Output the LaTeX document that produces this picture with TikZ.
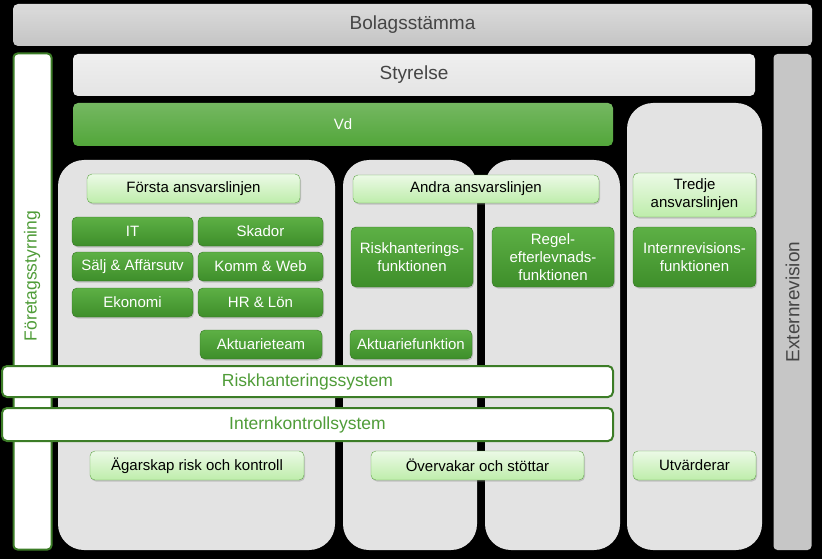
\documentclass[tikz,border=0pt]{standalone}
\usepackage{fontspec}
\setmainfont{Liberation Sans}
\usetikzlibrary{shadows}

\definecolor{bargrey}{HTML}{C4C4C4}
\definecolor{lightbar}{HTML}{E4E4E4}
\definecolor{colgrey}{HTML}{E3E3E3}
\definecolor{extgrey}{HTML}{C6C6C6}
\definecolor{textgrey}{HTML}{454545}
\definecolor{vdgreen}{HTML}{52A63A}
\definecolor{btntop}{HTML}{5DB045}
\definecolor{btnbottom}{HTML}{3E8E2A}
\definecolor{btnframe}{HTML}{367624}
\definecolor{hdrgreen}{HTML}{BEEDAB}
\definecolor{hdrframe}{HTML}{62A84A}
\definecolor{sysframe}{HTML}{3C7D27}
\definecolor{systext}{HTML}{4F9C38}

\begin{document}
\begin{tikzpicture}[x=1pt, y=-1pt,
	text centered,
	every node/.style={inner sep=0pt},
	greybar/.style={
	  rectangle,
	  rounded corners=5pt,
	  top color=bargrey!60,
	  bottom color=bargrey,
	  text=textgrey,
	  font=\fontsize{19}{22}\selectfont
	},
	lightbar/.style={
	  rectangle,
	  rounded corners=5pt,
	  top color=white!40!lightbar,
	  bottom color=lightbar,
	  text=textgrey,
	  font=\fontsize{19}{22}\selectfont
	},
	column/.style={
	  rectangle,
	  rounded corners=26pt,
	  fill=colgrey
	},
	vdbar/.style={
	  rectangle,
	  rounded corners=5pt,
	  top color=vdgreen!80!white,
	  bottom color=vdgreen,
	  text=white,
	  font=\fontsize{15}{18}\selectfont
	},
	greenbox/.style={
	  rectangle,
	  rounded corners=5pt,
	  draw=btnframe,
	  thin,
	  top color=btntop,
	  bottom color=btnbottom,
	  text=white,
	  align=center,
	  font=\fontsize{15}{18}\selectfont,
	  drop shadow={opacity=0.35, shadow xshift=1pt, shadow yshift=-1.5pt}
	},
	linebox/.style={
	  rectangle,
	  rounded corners=5pt,
	  draw=hdrframe,
	  thin,
	  top color=hdrgreen!30,
	  bottom color=hdrgreen,
	  text=black,
	  align=center,
	  font=\fontsize{15}{18}\selectfont,
	  drop shadow={opacity=0.35, shadow xshift=1pt, shadow yshift=-1.5pt}
	},
	systembar/.style={
	  rectangle,
	  rounded corners=5pt,
	  draw=sysframe,
	  line width=2pt,
	  fill=white,
	  text=systext,
	  font=\fontsize{17.5}{20}\selectfont
	},
	sidebar/.style={
	  rectangle,
	  rounded corners=4pt,
	  minimum width=496pt,
	  minimum height=38pt,
	  rotate=90
	}
	]
	\path [fill=black] (0, 0) rectangle (822, 559);

	\node at (412.5, 25) [greybar, minimum width=799pt, minimum height=42pt] (bolag) {Bolagsstämma};
	\node at (414, 75) [lightbar, minimum width=682pt, minimum height=42pt] (styrelse) {Styrelse};
	\node at (32.5, 301.5) [sidebar, draw=sysframe, line width=2pt, fill=white] (styrning) {};
	\node at (32, 276) [rotate=90, text=systext, font=\fontsize{17.5}{20}\selectfont] (styrtext) {Företagsstyrning};
	\node at (792.5, 302) [sidebar, fill=extgrey, text=textgrey, font=\fontsize{19}{22}\selectfont] (extern) {Externrevision};
	\node at (343, 124.5) [vdbar, minimum width=540pt, minimum height=43pt] (vd) {Vd};

	\node at (196.5, 355) [column, minimum width=277pt, minimum height=390pt] (first) {};
	\node at (410, 355) [column, minimum width=134pt, minimum height=390pt] (second) {};
	\node at (552.5, 355) [column, minimum width=135pt, minimum height=390pt] (compl) {};
	\node at (694.5, 326.5) [column, minimum width=135pt, minimum height=447pt] (third) {};

	\node at (193.5, 188.5) [linebox, minimum width=213pt, minimum height=29pt] (firstline) {Första ansvarslinjen};
	\node at (476, 189) [linebox, minimum width=246pt, minimum height=28pt] (secondline) {Andra ansvarslinjen};
	\node at (694.5, 195) [linebox, minimum width=123pt, minimum height=44pt] (thirdline) {Tredje\\ansvarslinjen};

	\node at (132.5, 231.5) [greenbox, minimum width=121pt, minimum height=29pt] (it) {IT};
	\node at (260.5, 231.5) [greenbox, minimum width=125pt, minimum height=29pt] (skador) {Skador};
	\node at (132.5, 266.5) [greenbox, minimum width=121pt, minimum height=29pt] (salj) {Sälj \& Affärsutv};
	\node at (260.5, 266.5) [greenbox, minimum width=125pt, minimum height=29pt] (komm) {Komm \& Web};
	\node at (132.5, 302.5) [greenbox, minimum width=121pt, minimum height=29pt] (ekonomi) {Ekonomi};
	\node at (260.5, 302.5) [greenbox, minimum width=125pt, minimum height=29pt] (hr) {HR \& Lön};
	\node at (261, 344.5) [greenbox, minimum width=122pt, minimum height=29pt] (aktteam) {Aktuarieteam};
	\node at (412, 257) [greenbox, minimum width=122pt, minimum height=60pt] (riskfunk) {Riskhanterings-\\funktionen};
	\node at (553, 257) [greenbox, minimum width=122pt, minimum height=60pt] (regel) {Regel-\\efterlevnads-\\funktionen};
	\node at (694.5, 257) [greenbox, minimum width=123pt, minimum height=60pt] (internrev) {Internrevisions-\\funktionen};
	\node at (411, 344.5) [greenbox, minimum width=122pt, minimum height=29pt] (aktfunk) {Aktuariefunktion};

	\node at (307.5, 381.5) [systembar, minimum width=611pt, minimum height=31pt] (risksys) {Riskhanteringssystem};
	\node at (307.5, 424.5) [systembar, minimum width=611pt, minimum height=33pt] (iksys) {Internkontrollsystem};

	\node at (197, 465.5) [linebox, minimum width=214pt, minimum height=29pt] (agarskap) {Ägarskap risk och kontroll};
	\node at (477.5, 465.5) [linebox, minimum width=213pt, minimum height=29pt] (overvakar) {Övervakar och stöttar};
	\node at (694.5, 465.5) [linebox, minimum width=123pt, minimum height=29pt] (utvarderar) {Utvärderar};
\end{tikzpicture}
\end{document}
